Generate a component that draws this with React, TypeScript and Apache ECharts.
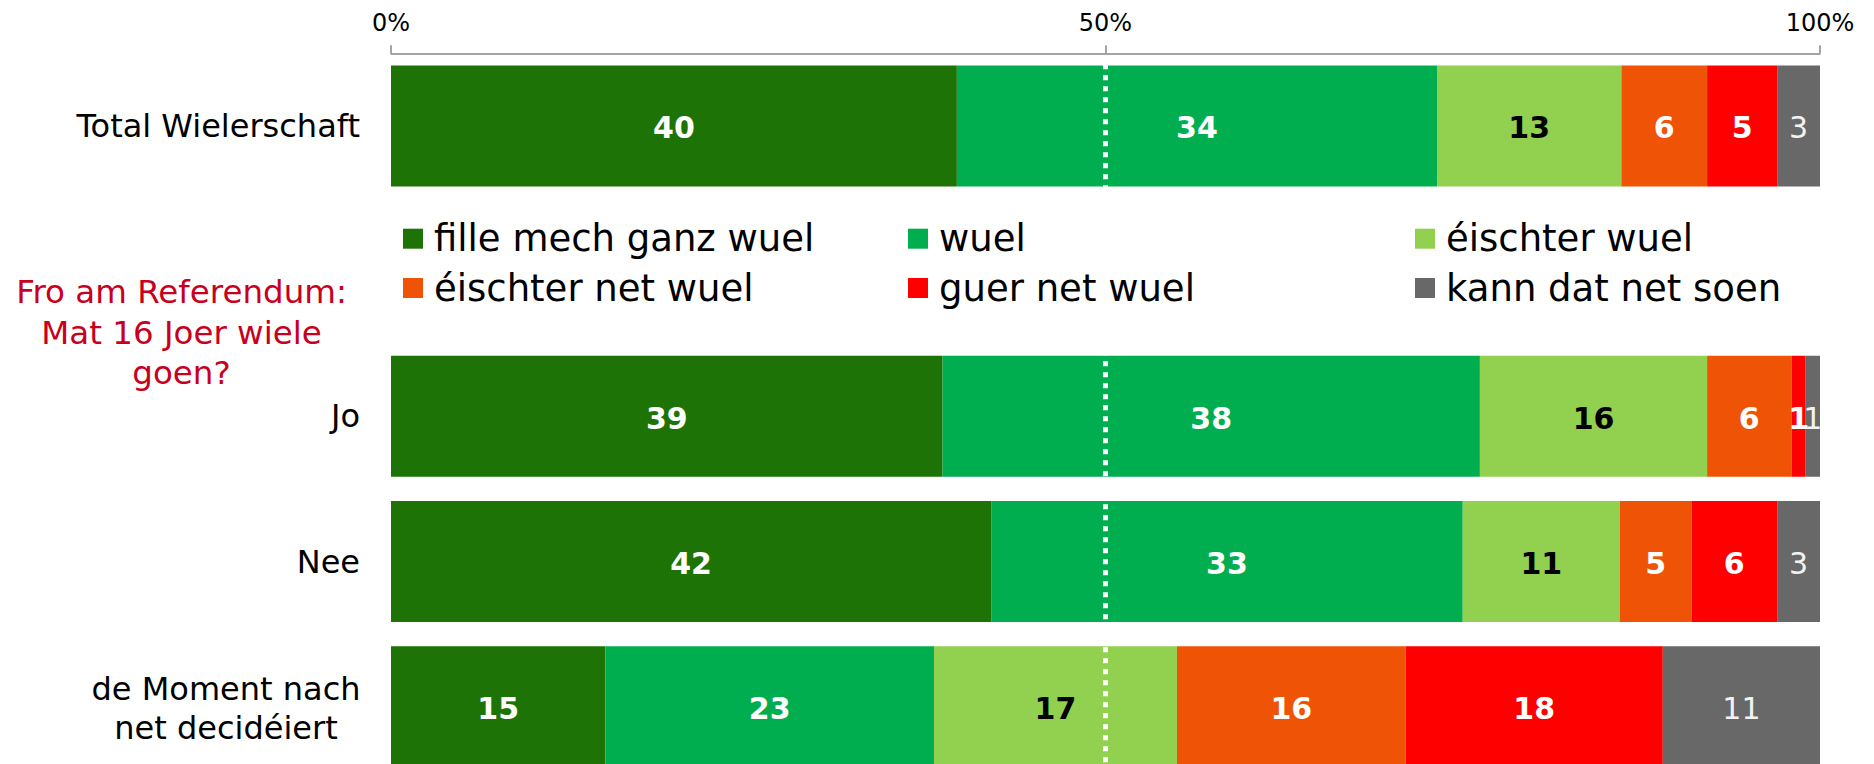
import React, { useEffect, useRef } from 'react';
import * as echarts from 'echarts';

const FONT = '"DejaVu Sans", Verdana, sans-serif';

// Row labels (top to bottom); an empty header slot sits after the first row
const rowLabels = ['Total Wielerschaft', 'Jo', 'Nee', 'de Moment nach\nnet decidéiert'];
const headerSlot = '';

const seriesNames = [
  'fille mech ganz wuel',
  'wuel',
  'éischter wuel',
  'éischter net wuel',
  'guer net wuel',
  'kann dat net soen',
];

// values per row: Total, Jo, Nee, de Moment nach net decidéiert
const filleMechGanzWuel = [39.6, 38.6, 42.0, 15.0];
const wuel = [33.6, 37.6, 33.0, 23.0];
const eischterWuel = [12.9, 15.9, 11.0, 17.0];
const eischterNetWuel = [6.0, 5.9, 5.0, 16.0];
const guerNetWuel = [4.9, 1.0, 6.0, 18.0];
const kannDatNetSoen = [3.0, 1.0, 3.0, 11.0];

const seriesValues = [filleMechGanzWuel, wuel, eischterWuel, eischterNetWuel, guerNetWuel, kannDatNetSoen];

const xTickValues = [0, 50, 100];
const sideNote = 'Fro am Referendum:\nMat 16 Joer wiele\ngoen?';

const seriesColors = ['#1D7305', '#00AE4F', '#92D050', '#EE5306', '#FF0000', '#686868'];
const labelColors = ['#FFFFFF', '#FFFFFF', '#000000', '#FFFFFF', '#FFFFFF', '#F2F2F2'];
const labelWeights = ['bold', 'bold', 'bold', 'bold', 'bold', 'normal'];

const legendCols = [403, 908, 1415];
const legendRowCenters = [238.7, 288];

export default function App() {
  const ref = useRef<HTMLDivElement>(null);

  useEffect(() => {
    if (!ref.current) return;
    const chart = echarts.init(ref.current, null, { renderer: 'svg' });

    const categories = [rowLabels[0], headerSlot, ...rowLabels.slice(1)];

    const series: any[] = seriesNames.map((name, i) => {
      const v = seriesValues[i];
      const s: any = {
        name,
        type: 'bar',
        stack: 'total',
        barWidth: 121,
        itemStyle: { color: seriesColors[i] },
        emphasis: { disabled: true },
        data: [v[0], '-', v[1], v[2], v[3]],
        label: {
          show: true,
          position: 'inside',
          offset: [0, 2],
          formatter: (p: any) => String(Math.round(p.value)),
          fontSize: 30,
          fontFamily: FONT,
          fontWeight: labelWeights[i],
          color: labelColors[i],
          textBorderWidth: 0,
        },
      };
      if (i === seriesNames.length - 1) {
        s.markLine = {
          silent: true,
          symbol: ['none', 'none'],
          label: { show: false },
          lineStyle: { color: '#FFFFFF', width: 5, type: [5, 6], opacity: 1 },
          emphasis: { disabled: true },
          data: [{ xAxis: 50 }],
        };
      }
      return s;
    });

    const legends: any[] = [];
    seriesNames.forEach((name, i) => {
      const row = Math.floor(i / 3);
      const col = i % 3;
      legends.push({
        data: [name],
        left: legendCols[col],
        top: legendRowCenters[row] - 20,
        padding: 0,
        itemWidth: 20,
        itemHeight: 20,
        icon: 'rect',
        selectedMode: false,
        textStyle: {
          fontSize: 37,
          fontFamily: FONT,
          color: '#000',
          lineHeight: 40,
          padding: [0, 0, 0, 6],
        },
      });
    });

    chart.setOption({
      animation: false,
      grid: { left: 391, right: 54, top: 53.3, bottom: 800 - 53.3 - 726 },
      legend: legends,
      xAxis: {
        type: 'value',
        position: 'top',
        min: 0,
        max: 100,
        interval: 50,
        z: 10,
        axisLine: { show: true, lineStyle: { color: '#868686', width: 1.5 } },
        axisTick: { show: true, length: 8, lineStyle: { color: '#868686', width: 1.5 } },
        splitLine: { show: false },
        axisLabel: {
          formatter: (val: number) => (xTickValues.includes(val) ? val + '%' : ''),
          fontSize: 24,
          fontFamily: FONT,
          color: '#000',
          margin: 18,
        },
      },
      yAxis: {
        type: 'category',
        inverse: true,
        data: categories,
        axisLine: { show: false },
        axisTick: { show: false },
        axisLabel: {
          margin: 31,
          fontSize: 32,
          fontFamily: FONT,
          color: '#000',
          formatter: (v: string) =>
            v.includes('\n') ? v.split('\n').map((l) => `{c|${l}}`).join('\n') : v,
          rich: {
            c: { width: 268, align: 'center', lineHeight: 39, fontSize: 32, fontFamily: FONT, color: '#000', padding: [3, 0, 0, 0] },
          },
        },
      },
      graphic: [
        {
          type: 'text',
          x: 181.5,
          y: 272,
          silent: true,
          style: {
            text: sideNote,
            fill: '#C8001E',
            fontSize: 32.5,
            fontFamily: FONT,
            align: 'center',
            verticalAlign: 'top',
            lineHeight: 40.5,
          },
        },
      ],
      series,
    });

    return () => chart.dispose();
  }, []);

  return (
    <div style={{ position: 'fixed', left: 0, top: 0, width: 1874, height: 764, overflow: 'hidden', background: '#fff' }}>
      <div ref={ref} style={{ width: 1874, height: 800 }} />
    </div>
  );
}
